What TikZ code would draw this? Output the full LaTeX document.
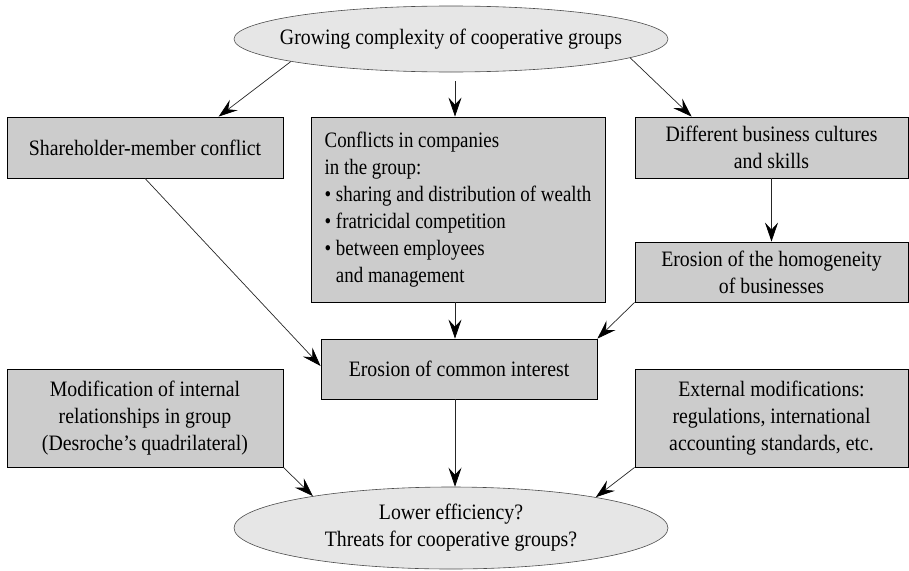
\documentclass[tikz,border=0pt]{standalone}
\usepackage{fontspec}
\setmainfont{Liberation Serif}[FakeStretch=0.9]
\newfontfamily\condfont{Liberation Serif}[FakeStretch=0.86]
\usetikzlibrary{arrows.meta,shapes.geometric,calc}
\definecolor{boxgray}{HTML}{CCCCCC}
\definecolor{ellgray}{HTML}{E6E6E6}
\begin{document}
\begin{tikzpicture}[x=1pt,y=-1pt,
  every node/.style={font=\fontsize{22}{27}\selectfont, inner sep=0pt},
  box/.style={draw=black, line width=0.8pt, fill=boxgray, rectangle, align=center},
  ell/.style={draw=black!70, line width=0.6pt, fill=ellgray, ellipse, align=center, inner xsep=-40pt, inner ysep=-12pt},
  arr/.style={draw=black!85, line width=0.7pt, -{Stealth[length=19pt,width=13pt,inset=7pt,color=black,fill=black]}}]
\useasboundingbox (0,0) rectangle (909,570);
\node[ell, minimum width=434, minimum height=66] (top) at (451,39) {Growing complexity of cooperative groups};
\node[box, minimum width=276, minimum height=61] (sh) at (145,147.5) {Shareholder-member conflict};
\node[box, minimum width=294, minimum height=185, align=left, font=\condfont\fontsize{22}{27}\selectfont] (conf) at (458,209.5)
  {Conflicts in companies\\in the group:\\\textbullet\ sharing and distribution of wealth\\\textbullet\ fratricidal competition\\\textbullet\ between employees\\\phantom{\textbullet\ }and management};
\node[box, minimum width=273, minimum height=61] (diff) at (771.5,147.5) {Different business cultures\\and skills};
\node[box, minimum width=273, minimum height=60] (hom) at (771.5,272) {Erosion of the homogeneity\\of businesses};
\node[box, minimum width=276, minimum height=60] (com) at (459,369) {Erosion of common interest};
\node[box, minimum width=276, minimum height=98] (mod) at (145,418) {Modification of internal\\relationships in group\\(Desroche's quadrilateral)};
\node[box, minimum width=273, minimum height=98] (ext) at (771.5,418) {External modifications:\\regulations, international\\accounting standards, etc.};
\node[ell, minimum width=434, minimum height=82] (bot) at (451,528) {Lower efficiency?\\Threats for cooperative groups?};
\draw[arr] (top.188) -- ($(sh.north west)+(212,0)$);
\draw[arr] ($(top.south)+(4,9)$) -- ($(conf.north)+(-3,0)$);
\draw[arr] (top.-6) -- ($(diff.north west)+(57,0)$);
\draw[arr] (diff.south) -- (hom.north);
\draw[arr] (sh.south) -- ($(com.west)+(0,-3)$);
\draw[arr] ($(conf.south)+(-3,0)$) -- ($(com.north)+(-4,0)$);
\draw[arr] (hom.south west) -- (com.north east);
\draw[arr] ($(com.south)+(-4,0)$) -- ($(bot.north)+(4,0)$);
\draw[arr] (mod.south east) -- (bot.167);
\draw[arr] (ext.south west) -- (bot.12);
\end{tikzpicture}
\end{document}
